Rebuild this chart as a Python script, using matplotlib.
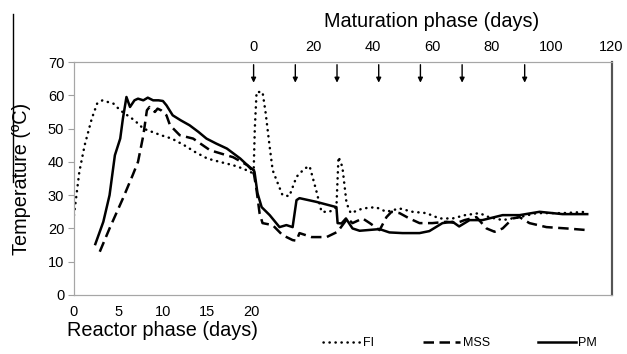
import matplotlib
matplotlib.use("Agg")
import matplotlib.pyplot as plt
from matplotlib.lines import Line2D

plt.rcParams['font.family'] = ['Liberation Sans', 'DejaVu Sans']

# Reactor phase (days 0-20)
fi_r_day = [0, 0.6, 1.2, 2.0, 2.6, 3.2, 3.8, 4.4, 5.2, 6.0, 6.8, 7.8, 8.8, 9.8,
            11.0, 12.4, 13.6, 15.0, 16.4, 17.9, 19.0, 20.2]
fi_r_temp = [24, 37, 45, 53, 57.5, 58.5, 58, 57.6, 55.5, 54, 52.5, 50, 49, 48,
             47, 45, 43, 41, 40, 39, 38, 36.5]

mss_r_day = [2.9, 4.0, 5.5, 6.6, 7.2, 7.8, 8.2, 8.5, 9.1, 9.4, 9.8, 10.4, 10.8,
             11.9, 13.4, 15.3, 17.9, 19.5, 20.2]
mss_r_temp = [13, 20, 29, 36, 40, 48, 55.5, 56.5, 55, 56, 55.5, 54, 51,
              48, 47, 43.5, 41.4, 39, 37]

pm_r_day = [2.4, 3.3, 4.0, 4.6, 5.2, 5.5, 5.9, 6.3, 6.8, 7.2, 7.8, 8.3, 8.9, 9.5,
            10.0, 10.4, 11.1, 12.0, 13.0, 14.0, 14.9, 16.0, 17.2, 18.7, 19.5, 20.2]
pm_r_temp = [15.3, 22, 30, 42, 47, 53, 59.5, 56.5, 58.5, 59, 58.5, 59.3, 58.5, 58.5,
             58.3, 57, 54, 52.5, 51, 49, 47, 45.5, 44, 41, 39, 37.5]

# Maturation phase (days 0-112)
fi_m_day = [0, 0.4, 1, 3, 4, 5.4, 6.4, 7.7, 9.7, 12, 14.4, 17.1, 18.8, 21, 22.8,
            25.5, 27.8, 28.5, 29.8, 31.2, 32.6, 36.6, 41, 44.6, 49, 53.4, 58,
            62.4, 66.8, 71, 75.8, 79, 83.6, 89.3, 95, 103.7, 112]
fi_m_temp = [36.5, 50, 61, 61, 55, 44.5, 37.5, 34.5, 30, 29.7, 35.5, 38, 38.7, 31.5, 25,
             25, 26.4, 41.5, 38.5, 27.6, 24.6, 26, 26.4, 25, 26, 25, 24.6,
             23, 23, 24, 24.6, 23.4, 22.5, 23.4, 24.6, 24.6, 25]

mss_m_day = [0, 1, 2, 3, 6.4, 9.7, 13.1, 14.4, 15.4, 19.5, 24.5, 28.2, 31.5, 33.2,
             36.6, 39, 42.3, 44.6, 46.3, 49, 52.3, 55.7, 60, 64.8, 68.1, 70.8,
             74.8, 78.2, 80.9, 83.6, 87, 89.3, 92.6, 98.3, 105, 112]
mss_m_temp = [37, 31.5, 24.6, 21.6, 21, 18, 16.5, 16.3, 18.6, 17.4, 17.4, 19, 23, 21.6,
              23, 21.6, 19.5, 23.4, 25, 24.6, 23, 21.6, 21.6, 22, 21.6, 22.5,
              23.4, 20, 19, 20, 23, 23.4, 21.6, 20.4, 20, 19.5]

pm_m_day = [0, 0.3, 1.3, 2.7, 5.4, 8.7, 11, 13.1, 14.4, 15.4, 21, 27.8, 28.2, 29.5,
            31, 33.2, 35.6, 42.3, 45.6, 50, 55.7, 59, 63.4, 66.8, 69, 72.5, 76.8,
            83.6, 89.3, 96, 103.7, 112]
pm_m_temp = [37.5, 37, 30.6, 26.4, 24, 20.4, 21, 20.4, 28.5, 29.1, 28, 26.4, 21.6, 21.5,
             23, 20, 19.3, 19.8, 18.8, 18.6, 18.6, 19.2, 21.6, 22, 20.6, 22.5, 22.5,
             24, 24, 25, 24.3, 24.3]

# Turning days (arrows)
turning_days = [0, 14, 28, 42, 56, 70, 91]

reactor_ticks = [0, 5, 10, 15, 20]
maturation_ticks = [0, 20, 40, 60, 80, 100, 120]
temp_ticks = [0, 10, 20, 30, 40, 50, 60, 70]

fig = plt.figure(figsize=(6.27, 3.54), dpi=100)
ax = fig.add_axes([0.118, 0.1667, 0.858, 0.658])
ax2 = ax.twiny()

lw = 1.8
dot_style = (0, (0.1, 2.3))
dash_style = (0, (4.2, 2.2))

ax.plot(fi_r_day, fi_r_temp, color='black', lw=lw, linestyle=dot_style,
        dash_capstyle='round')
ax.plot(mss_r_day, mss_r_temp, color='black', lw=lw, linestyle=dash_style)
ax.plot(pm_r_day, pm_r_temp, color='black', lw=lw)

ax2.plot(fi_m_day, fi_m_temp, color='black', lw=lw, linestyle=dot_style,
         dash_capstyle='round', label='FI')
ax2.plot(mss_m_day, mss_m_temp, color='black', lw=lw, linestyle=dash_style,
         label='MSS')
ax2.plot(pm_m_day, pm_m_temp, color='black', lw=lw, label='PM')

for d in turning_days:
    ax2.annotate('', xy=(d, 63.8), xytext=(d, 69.2),
                 arrowprops=dict(arrowstyle='-|>', color='black', lw=1,
                                 mutation_scale=7, shrinkA=0, shrinkB=0))

ax.set_xlim(0, 60.5)
ax2.set_xlim(-60.3, 120.3)
ax.set_ylim(0, 70)

ax.set_xticks(reactor_ticks)
ax.set_yticks(temp_ticks)
ax2.set_xticks(maturation_ticks)

ax.tick_params(axis='x', length=0, labelsize=10.5, pad=7)
ax.tick_params(axis='y', length=4, color='#a0a0a0', labelsize=10.5, pad=3)
ax2.tick_params(axis='x', length=0, labelsize=10.5, pad=6)

for sp in ['left', 'bottom', 'top']:
    ax.spines[sp].set_color('#a6a6a6')
    ax2.spines[sp].set_color('#a6a6a6')
ax.spines['right'].set_color('#555555')
ax2.spines['right'].set_color('#555555')
ax.spines['right'].set_linewidth(1.5)
ax2.spines['right'].set_linewidth(1.5)

ax.set_xlabel('Reactor phase (days)', fontsize=14.3)
ax.xaxis.set_label_coords(0.165, -0.11)
ax.set_ylabel('Temperature (ºC)', fontsize=14.3, labelpad=12)
ax2.set_xlabel('Maturation phase (days)', fontsize=14.3)
ax2.xaxis.set_label_coords(0.665, 1.15)

fig.legend(loc='center left', bbox_to_anchor=(0.497, 0.03), ncol=3, frameon=False,
           fontsize=9, handlelength=3.0, handletextpad=0.2, columnspacing=3.9)

fig.add_artist(Line2D([13 / 627, 13 / 627], [1 - 14 / 354, 1 - 182 / 354],
                      color='black', lw=1))

fig.savefig('out.png', dpi=100)
